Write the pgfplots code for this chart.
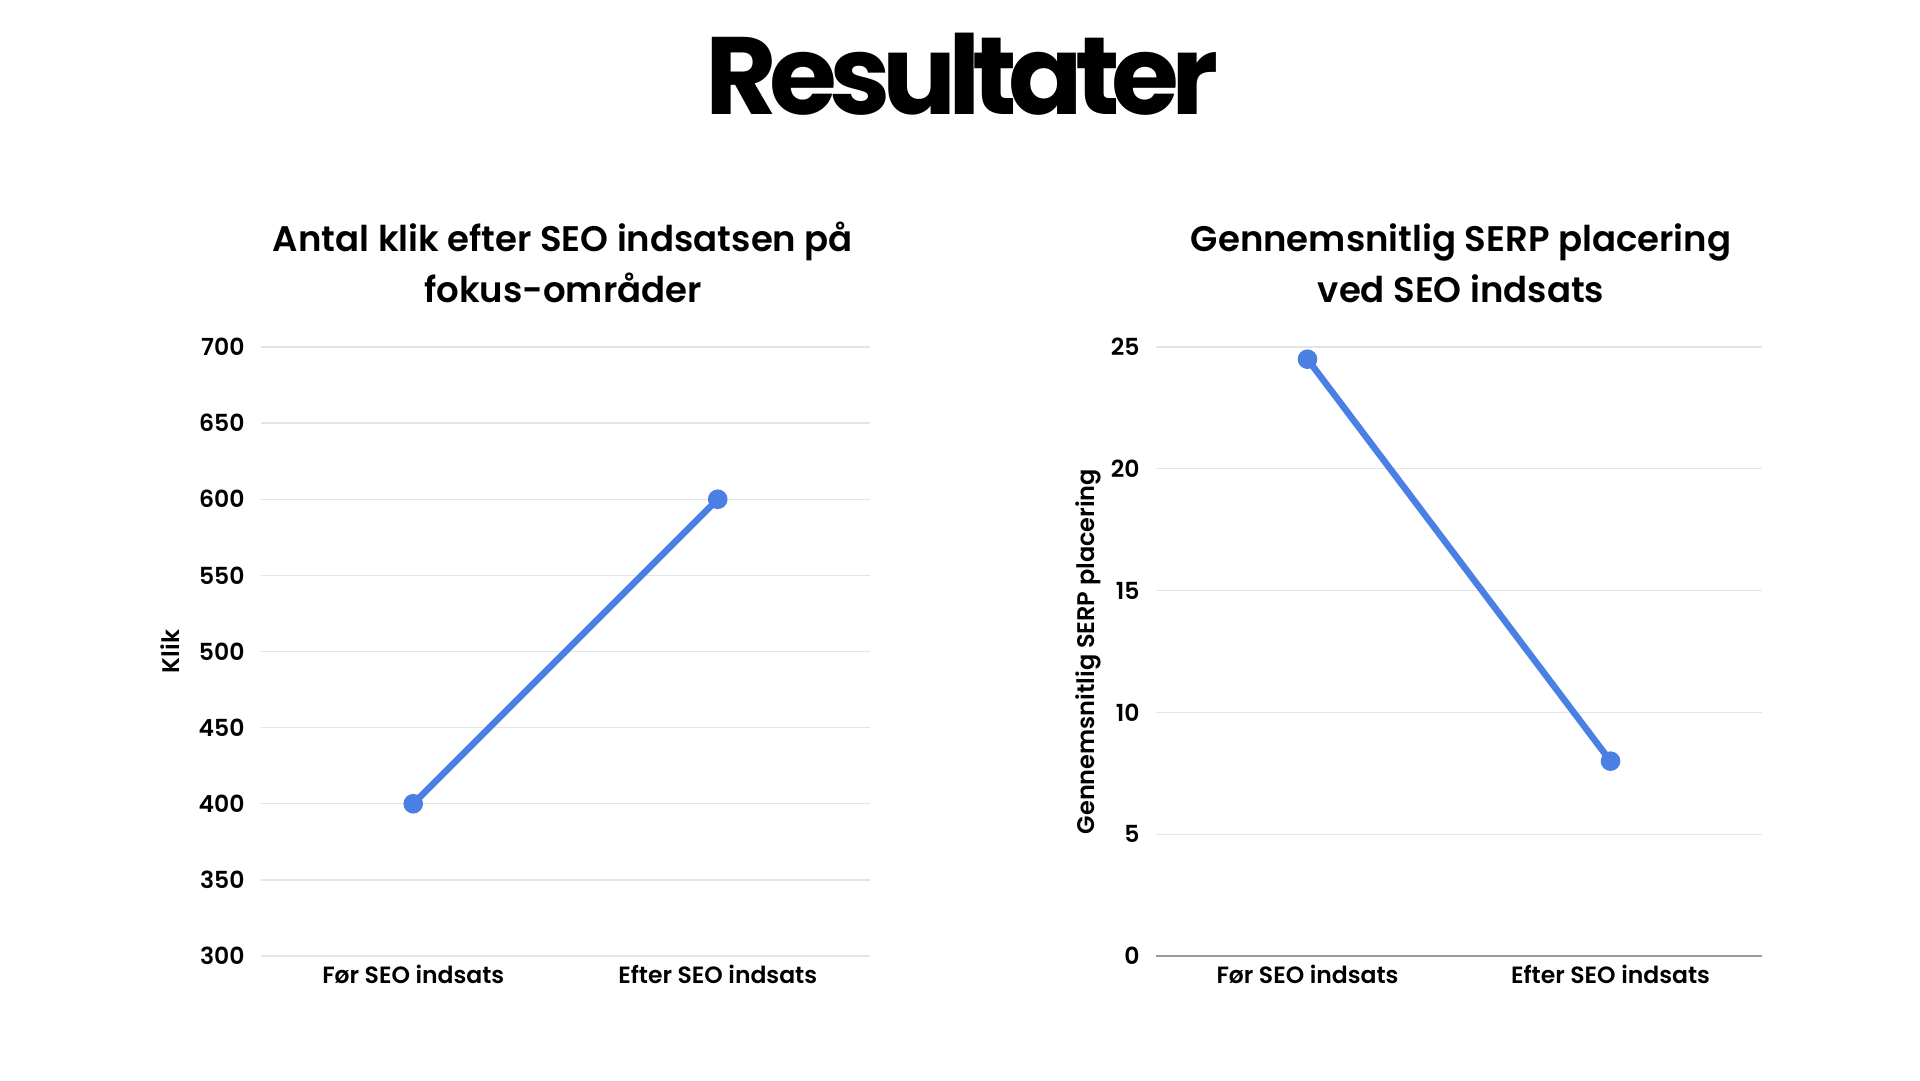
\documentclass[border=0pt]{standalone}
\usepackage{fontspec}
\setmainfont{Poppins}
\IfFontExistsTF{Poppins Medium}
  {\newfontfamily\popmed{Poppins Medium}}
  {\newfontfamily\popmed[FakeBold=2]{Poppins}}
\IfFontExistsTF{Poppins SemiBold}
  {\newfontfamily\popsemi{Poppins SemiBold}}
  {\newfontfamily\popsemi{Poppins Bold}}
\newfontfamily\poptitle[LetterSpace=-7.5]{Poppins Bold}
\usepackage{pgfplots}
\pgfplotsset{compat=1.18}

\definecolor{lineblue}{HTML}{4A7FE3}
\definecolor{gridgray}{HTML}{E4E4E4}
\definecolor{basegray}{HTML}{9A9A9A}

\pgfplotsset{
  serp/.style={
    scale only axis,
    width=609pt, height=609pt,
    xmin=-0.5, xmax=1.5,
    xtick={0,1},
    xticklabels={Før SEO indsats, Efter SEO indsats},
    ymajorgrids,
    grid style={gridgray, line width=1.3pt},
    major tick length=0pt,
    tick style={draw=none},
    /pgf/number format/assume math mode=true,
    ticklabel style={font=\fontsize{23.5}{28}\popsemi},
    yticklabel style={xshift=-13pt},
    xticklabel style={yshift=-6pt},
    label style={font=\fontsize{24}{28}\popsemi},
    clip=false,
  },
  serpline/.style={lineblue, line width=6.5pt, mark=*,
    mark options={solid, scale=1, draw=lineblue, fill=lineblue},
    mark size=6.5pt},
}

\begin{document}
\begin{tikzpicture}
\path[use as bounding box] (0,0) rectangle (1920pt,1080pt);

\node[font=\fontsize{110}{120}\poptitle, anchor=base] at (962pt,965pt) {Resultater};

% venstre diagram
\begin{axis}[serp,
  at={(261pt,124pt)}, anchor=south west,
  ymin=300, ymax=700,
  ytick={300,350,...,700},
  axis line style={draw=none},
  ylabel={Klik},
  ylabel style={at={(axis description cs:-0.149,0.5)}, anchor=center},
]
\addplot[serpline] coordinates {(0,400) (1,600)};
\end{axis}

% hoejre diagram
\begin{axis}[serp,
  at={(1156pt,124pt)}, anchor=south west,
  width=606pt,
  ymin=0, ymax=25,
  ytick={0,5,...,25},
  axis lines*=left,
  y axis line style={draw=none},
  x axis line style={draw=basegray, line width=1.3pt, -},
  ylabel={Gennemsnitlig SERP placering},
  ylabel style={at={(axis description cs:-0.112,0.5)}, anchor=center},
]
\addplot[serpline] coordinates {(0,24.5) (1,8)};
\end{axis}

\node[font=\fontsize{35.5}{44}\popsemi, anchor=base] at (563pt,828pt) {Antal klik efter SEO indsatsen på};
\node[font=\fontsize{35.5}{44}\popsemi, anchor=base] at (563pt,777pt) {fokus-områder};
\node[font=\fontsize{35.5}{44}\popsemi, anchor=base] at (1461pt,828pt) {Gennemsnitlig SERP placering};
\node[font=\fontsize{35.5}{44}\popsemi, anchor=base] at (1461pt,777pt) {ved SEO indsats};
\end{tikzpicture}
\end{document}
